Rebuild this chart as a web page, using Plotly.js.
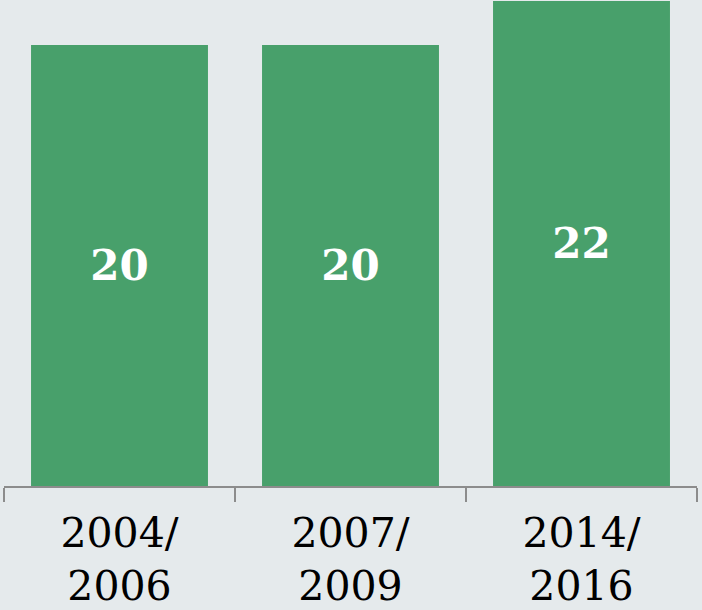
<!DOCTYPE html>
<html>
<head>
<meta charset="utf-8">
<script src="https://cdn.plot.ly/plotly-3.0.1.min.js"></script>
<style>html,body{margin:0;padding:0;background:#e5eaec;}</style>
</head>
<body>
<div id="chart" style="width:702px;height:610px;"></div>
<script>
const categories = ["2004/<br>2006", "2007/<br>2009", "2014/<br>2016"];
const values = [20, 20, 22];
const valueLabels = ["20", "20", "22"];

const trace = {
  type: "bar",
  x: categories,
  y: values,
  text: valueLabels,
  texttemplate: "%{text}",
  textposition: "inside",
  insidetextanchor: "middle",
  textangle: 0,
  constraintext: "none",
  textfont: {family: "DejaVu Serif", size: 42, color: "#ffffff", weight: "bold"},
  marker: {color: "#48a06b", line: {width: 0}},
  hoverinfo: "none"
};

const layout = {
  width: 702,
  height: 610,
  margin: {l: 4, r: 5, t: 1, b: 124},
  paper_bgcolor: "#e5eaec",
  plot_bgcolor: "#e5eaec",
  bargap: 0.234,
  showlegend: false,
  xaxis: {
    type: "category",
    tickson: "boundaries",
    ticks: "outside",
    ticklen: 14,
    tickwidth: 1.5,
    tickcolor: "#8c8c8c",
    showline: true,
    linecolor: "#8c8c8c",
    linewidth: 1.5,
    showgrid: false,
    ticklabelstandoff: 10,
    tickfont: {family: "DejaVu Serif", size: 41, color: "#000000"},
    fixedrange: true
  },
  yaxis: {
    range: [0, 22],
    visible: false,
    showgrid: false,
    zeroline: false,
    fixedrange: true
  }
};

Plotly.newPlot("chart", [trace], layout, {displayModeBar: false, staticPlot: true});
</script>
</body>
</html>
